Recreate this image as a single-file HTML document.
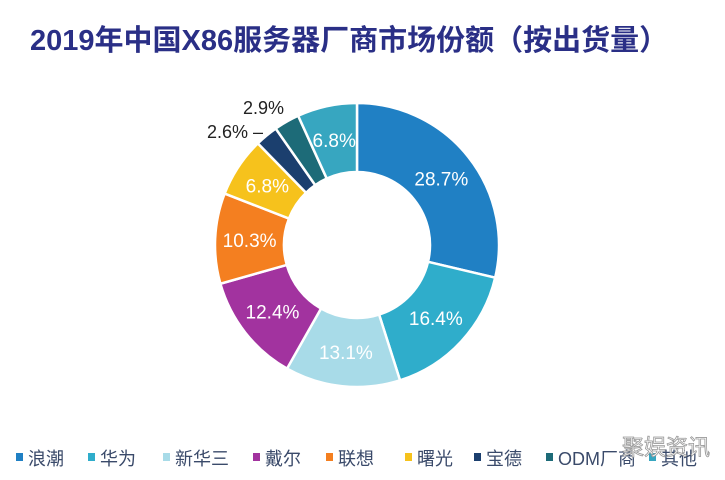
<!DOCTYPE html>
<html><head><meta charset="utf-8"><style>
body{margin:0;background:#fff;width:725px;height:475px;overflow:hidden;font-family:"Liberation Sans","Noto Sans CJK SC",sans-serif}
</style></head><body>
<svg width="725" height="475" viewBox="0 0 725 475">
<text x="30" y="50" font-size="29" font-weight="bold" fill="#2a2f86" font-family="Liberation Sans, Noto Sans CJK SC, sans-serif">2019年中国X86服务器厂商市场份额（按出货量）</text>
<g id="pie"></g>
<text x="243" y="114" font-size="18" fill="#222">2.9%</text>
<text x="207" y="138" font-size="18" fill="#222">2.6% –</text>
<g id="legend"></g>
<text x="622" y="455" font-size="22" fill="#fff" stroke="#999" stroke-width="0.8">聚娱资讯</text>
</svg>
<script>
const categories=["浪潮","华为","新华三","戴尔","联想","曙光","宝德","ODM厂商","其他"];
const values=[28.7,16.4,13.1,12.4,10.3,6.8,2.6,2.9,6.8];
const labels=["28.7%","16.4%","13.1%","12.4%","10.3%","6.8%","","","6.8%"];
const colors=["#2080c4","#2fadcb","#a8dbe8","#a2339f","#f47f20","#f6c21c","#1b3f6e","#1d6b78","#37a6c0"];
const legendX=[16,88,163,253,326,405,474,546,649];
const ns="http://www.w3.org/2000/svg";
const cx=357,cy=245,R=142,r=73;
const total=values.reduce((a,b)=>a+b,0);
const pie=document.getElementById('pie');
let a0=0;
function pt(rad,ang){return [cx+rad*Math.sin(ang),cy-rad*Math.cos(ang)];}
values.forEach((v,i)=>{
  const a1=a0+v/total*2*Math.PI;
  const [x1,y1]=pt(R,a0),[x2,y2]=pt(R,a1),[x3,y3]=pt(r,a1),[x4,y4]=pt(r,a0);
  const lg=(a1-a0)>Math.PI?1:0;
  const p=document.createElementNS(ns,'path');
  p.setAttribute('d',`M${x1},${y1}A${R},${R} 0 ${lg} 1 ${x2},${y2}L${x3},${y3}A${r},${r} 0 ${lg} 0 ${x4},${y4}Z`);
  p.setAttribute('fill',colors[i]);p.setAttribute('stroke','#fff');p.setAttribute('stroke-width','2.5');
  
  
  pie.appendChild(p);
  if(labels[i]){
    const [lx,ly]=pt((R+r)/2,(a0+a1)/2);
    const t=document.createElementNS(ns,'text');
    t.setAttribute('x',lx);t.setAttribute('y',ly+7);t.setAttribute('text-anchor','middle');
    t.setAttribute('font-size','19');t.setAttribute('fill','#fff');
    t.textContent=labels[i];
    
    
    pie.appendChild(t);
  }
  a0=a1;
});
const lg=document.getElementById('legend');
categories.forEach((c,i)=>{
  const g=document.createElementNS(ns,'g');
  
  
  const s=document.createElementNS(ns,'rect');
  s.setAttribute('x',legendX[i]);s.setAttribute('y',453);s.setAttribute('width',7);s.setAttribute('height',8);s.setAttribute('fill',colors[i]);
  const t=document.createElementNS(ns,'text');
  t.setAttribute('x',legendX[i]+12);t.setAttribute('y',465);t.setAttribute('font-size','18');t.setAttribute('fill','#3a4a6a');
  t.textContent=c;
  g.appendChild(s);g.appendChild(t);lg.appendChild(g);
});
</script>
</body></html>
